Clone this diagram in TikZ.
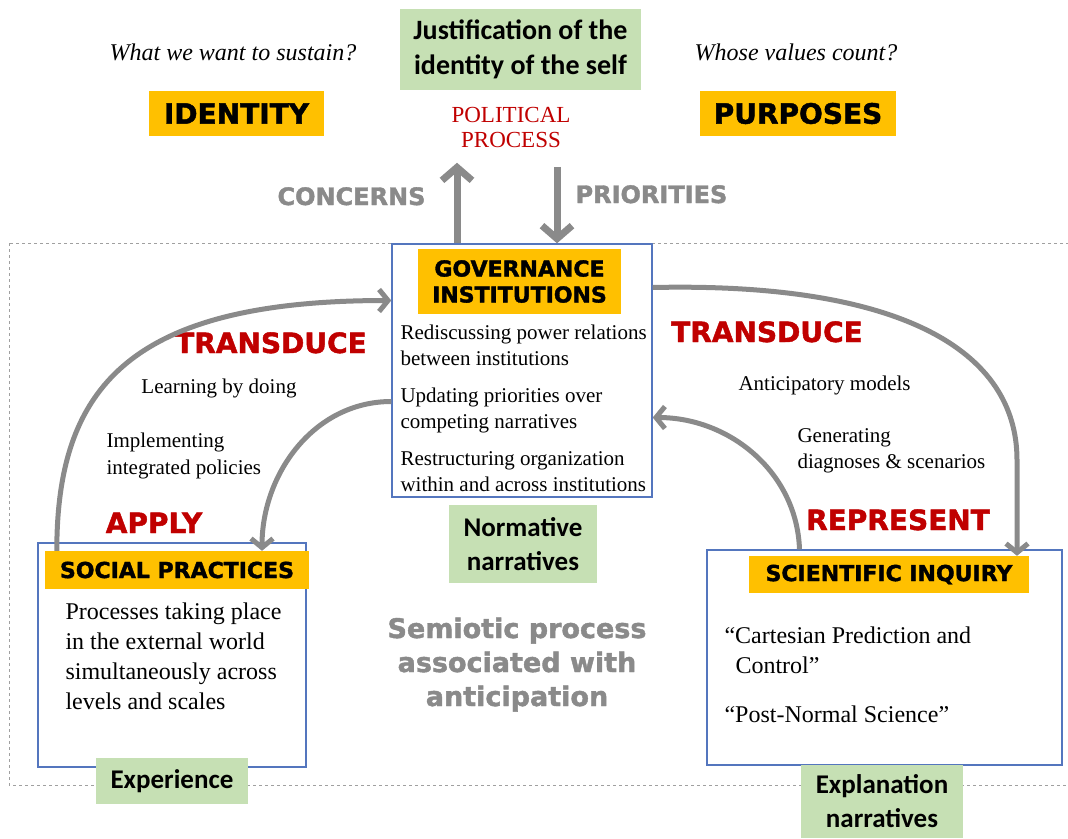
\documentclass[tikz,border=0pt]{standalone}
\usepackage{fontspec}
\setmainfont{Liberation Serif}
\newfontfamily\heavyfont{DejaVu Sans}[BoldFeatures={FakeBold=1.6}]
\newfontfamily\calfont{Carlito}
\usetikzlibrary{arrows.meta}
\definecolor{tagorange}{RGB}{255,192,0}
\definecolor{notegreen}{RGB}{198,224,180}
\definecolor{frameblue}{RGB}{84,118,190}
\definecolor{verbred}{RGB}{192,0,0}
\definecolor{flowgray}{RGB}{138,138,138}
\definecolor{dashgray}{RGB}{160,160,160}

\begin{document}
\begin{tikzpicture}[x=1pt,y=-1pt,>={Straight Barb[length=9pt,width=22pt]},
        tag/.style={fill=tagorange,inner sep=0pt,align=center,font=\heavyfont\bfseries\fontsize{22}{26}\selectfont},
        bigtag/.style={tag,font=\heavyfont\bfseries\fontsize{28}{30}\selectfont},
        note/.style={fill=notegreen,inner sep=0pt,align=center,font=\calfont\bfseries\fontsize{27}{34}\selectfont},
        frame/.style={draw=frameblue,line width=1.4pt,inner sep=0pt},
        verb/.style={anchor=base,text=verbred,font=\heavyfont\bfseries\fontsize{28}{30}\selectfont},
        hint/.style={text=flowgray,font=\heavyfont\bfseries\fontsize{24}{34}\selectfont},
        flow/.style={draw=flowgray,line width=5pt,->},
        lift/.style={draw=flowgray,line width=7pt,-{Straight Barb[length=13pt,width=30pt]}},
        side/.style={anchor=base west,align=left,font=\fontsize{21}{26}\selectfont},
        body/.style={anchor=base west,align=left,font=\fontsize{24}{30}\selectfont}]
    \useasboundingbox (0,0) rectangle (1068,838);
    % dashed frame
    \draw[dashgray,dashed,line width=0.8pt] (9,243) rectangle (1080,785);

    % top row
    \node[anchor=base,font=\itshape\fontsize{24}{28}\selectfont] (sustain) at (233,60) {What we want to sustain?};
    \node[anchor=base,font=\itshape\fontsize{24}{28}\selectfont] (values) at (796,60) {Whose values count?};
    \node[bigtag,minimum width=175pt,minimum height=45pt] (identity) at (236.5,113.5) {IDENTITY};
    \node[bigtag,minimum width=196pt,minimum height=45pt] (purposes) at (798,113.5) {PURPOSES};
    \node[note,font=\calfont\bfseries\fontsize{28}{35}\selectfont,minimum width=241pt,minimum height=81pt] (selfhood) at (520.5,49.5) {Justification of the\\identity of the self};
    \node[anchor=base,align=center,text=verbred,font=\fontsize{23}{25}\selectfont] (politics) at (511,147) {POLITICAL\\PROCESS};

    % the three boxes
    \node[frame,minimum width=260pt,minimum height=253pt] (govbox) at (522,370.5) {};
    \node[frame,minimum width=268pt,minimum height=224pt] (socbox) at (172,655) {};
    \node[frame,minimum width=355pt,minimum height=215pt] (scibox) at (884.5,657.5) {};
    \node[tag,minimum width=203pt,minimum height=65pt] (governance) at (519.5,281.5) {GOVERNANCE\\INSTITUTIONS};
    \node[tag,minimum width=264pt,minimum height=38pt] (practices) at (177,570) {SOCIAL PRACTICES};
    \node[tag,minimum width=280pt,minimum height=37pt] (inquiry) at (889,574.5) {SCIENTIFIC INQUIRY};

    \node[side] (gov1) at (397,365) {Rediscussing power relations\\between institutions};
    \node[side] (gov2) at (397,428) {Updating priorities over\\competing narratives};
    \node[side] (gov3) at (397,491) {Restructuring organization\\within and across institutions};
    \node[body] (soctext) at (62,709) {Processes taking place\\in the external world\\simultaneously across\\levels and scales};
    \node[body] (cartesian) at (721,673) {“Cartesian Prediction and\\\hspace*{11pt}Control”};
    \node[body] (postnormal) at (721,722) {“Post-Normal Science”};

    % green notes
    \node[note,minimum width=148pt,minimum height=78pt] (normative) at (523,544) {Normative\\narratives};
    \node[note,minimum width=152pt,minimum height=46pt] (experience) at (172,781) {Experience};
    \node[note,minimum width=162pt,minimum height=73pt] (explanation) at (882,801.5) {Explanation\\narratives};

    % verbs and side notes
    \node[verb] (transleft) at (271,353) {TRANSDUCE};
    \node[verb] (transright) at (767,342) {TRANSDUCE};
    \node[verb] (apply) at (154,533) {APPLY};
    \node[verb] (represent) at (898,530) {REPRESENT};
    \node[side,anchor=base] (learning) at (219,393) {Learning by doing};
    \node[side,font=\fontsize{21}{27}\selectfont] (implementing) at (103,474) {Implementing\\integrated policies};
    \node[side] (anticipatory) at (735,390) {Anticipatory models};
    \node[side] (generating) at (794,468) {Generating\\diagnoses \& scenarios};
    \node[hint,anchor=base east] (concerns) at (429,205) {CONCERNS};
    \node[hint,anchor=base west] (priorities) at (572,203) {PRIORITIES};
    \node[hint,anchor=base,align=center,font=\heavyfont\bfseries\fontsize{27}{34}\selectfont] (semiotic) at (517,706) {Semiotic process\\associated with\\anticipation};

    % arrows
    \draw[lift,shorten >=12pt] ([xshift=-65pt]govbox.north) -- ([xshift=-65pt]govbox.north |- politics.south);
    \draw[lift,shorten <=16pt] ([xshift=35pt]govbox.north |- politics.south) -- ([xshift=35pt]govbox.north);
    \draw[flow] ([xshift=12pt]practices.north west) to[out=90,in=180,in looseness=1.6] ([yshift=70pt]govbox.west);
    \draw[flow] ([yshift=-31pt]govbox.west) to[out=180,in=90] ([xshift=85pt]practices.north);
    \coordinate (rbend) at (1017,460);
    \draw[flow] ([yshift=83pt]govbox.east) .. controls (900,282) and (1017,350) .. (rbend) -- ([xshift=128pt]inquiry.north);
    \draw[flow] ([xshift=-85pt]scibox.north) to[out=92,in=0] ([yshift=-47pt]govbox.east);
\end{tikzpicture}
\end{document}
